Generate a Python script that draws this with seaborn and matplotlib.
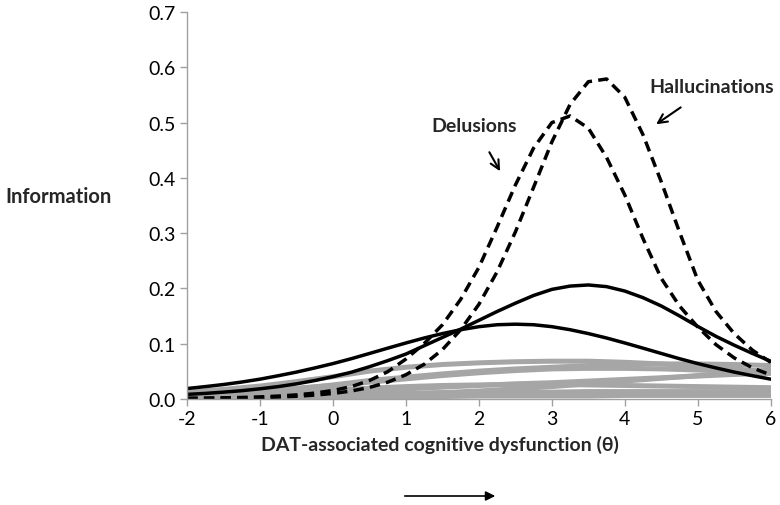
import matplotlib
matplotlib.use('Agg')
import matplotlib.pyplot as plt
import numpy as np
import seaborn as sns

# theta grids
theta_fine = np.linspace(-2, 6, 33)     # step 0.25
theta_coarse = np.linspace(-2, 6, 17)   # step 0.5

# dashed items
hallucinations = [0.0005, 0.0007, 0.0010, 0.0014, 0.0021, 0.0031, 0.0045, 0.0066, 0.0096,
                  0.0140, 0.0205, 0.0300, 0.0435, 0.0625, 0.089, 0.125, 0.171, 0.230, 0.302,
                  0.383, 0.465, 0.533, 0.574, 0.579, 0.546, 0.478, 0.393, 0.302, 0.215,
                  0.158, 0.118, 0.088, 0.066]
delusions = [0.0008, 0.0011, 0.0016, 0.0023, 0.0033, 0.0048, 0.0070, 0.0102, 0.0150,
             0.0220, 0.033, 0.049, 0.072, 0.100, 0.134, 0.180, 0.238, 0.311, 0.387,
             0.454, 0.500, 0.512, 0.490, 0.437, 0.369, 0.290, 0.218, 0.168, 0.130,
             0.098, 0.074, 0.056, 0.043]

# solid black items
solid_a = [0.0079, 0.0097, 0.012, 0.0146, 0.018, 0.022, 0.027, 0.033, 0.040, 0.048, 0.058,
           0.069, 0.081, 0.096, 0.111, 0.126, 0.142, 0.158, 0.173, 0.187, 0.198, 0.204,
           0.206, 0.203, 0.195, 0.183, 0.168, 0.150, 0.131, 0.113, 0.097, 0.082, 0.068]
solid_b = [0.0185, 0.022, 0.0258, 0.0303, 0.0355, 0.0417, 0.0483, 0.0558, 0.0637, 0.0725,
           0.082, 0.0916, 0.101, 0.110, 0.118, 0.125, 0.1305, 0.134, 0.135, 0.134, 0.1305,
           0.125, 0.118, 0.110, 0.101, 0.0916, 0.082, 0.0725, 0.0637, 0.0558, 0.0483,
           0.0417, 0.0355]

# gray items
gray_items = [
    [0.012, 0.017, 0.023, 0.031, 0.040, 0.050, 0.057, 0.062, 0.065, 0.067, 0.068, 0.068, 0.066, 0.063, 0.059, 0.054, 0.049],
    [0.006, 0.009, 0.013, 0.018, 0.025, 0.033, 0.039, 0.045, 0.050, 0.054, 0.057, 0.060, 0.062, 0.063, 0.063, 0.062, 0.060],
    [0.003, 0.004, 0.006, 0.008, 0.011, 0.014, 0.018, 0.021, 0.024, 0.027, 0.029, 0.032, 0.035, 0.038, 0.041, 0.044, 0.046],
    [0.006, 0.008, 0.010, 0.013, 0.016, 0.019, 0.022, 0.024, 0.025, 0.026, 0.026, 0.025, 0.024, 0.023, 0.022, 0.021, 0.020],
    [0.004, 0.005, 0.006, 0.007, 0.008, 0.009, 0.010, 0.011, 0.012, 0.012, 0.012, 0.013, 0.013, 0.013, 0.013, 0.013, 0.013],
    [0.002, 0.002, 0.003, 0.003, 0.003, 0.004, 0.004, 0.004, 0.005, 0.005, 0.005, 0.005, 0.006, 0.006, 0.006, 0.006, 0.006],
    [0.001, 0.0015, 0.002, 0.003, 0.004, 0.006, 0.008, 0.011, 0.014, 0.018, 0.022, 0.027, 0.032, 0.037, 0.042, 0.047, 0.052],
    [0.008, 0.011, 0.015, 0.019, 0.024, 0.030, 0.036, 0.042, 0.047, 0.051, 0.054, 0.055, 0.055, 0.054, 0.052, 0.050, 0.048],
]

x_ticks = [-2, -1, 0, 1, 2, 3, 4, 5, 6]
y_ticks = [0.0, 0.1, 0.2, 0.3, 0.4, 0.5, 0.6, 0.7]

sns.set_style('ticks')
plt.rcParams['font.family'] = ['Lato', 'DejaVu Sans']

fig, ax = plt.subplots(figsize=(7.8, 5.06), dpi=100)
fig.subplots_adjust(left=0.240, right=0.988, top=0.974, bottom=0.21)

for vals in gray_items:
    sns.lineplot(x=theta_coarse, y=vals, ax=ax, color='#a6a6a6', lw=3.6)

sns.lineplot(x=theta_fine, y=solid_b, ax=ax, color='black', lw=2.5)
sns.lineplot(x=theta_fine, y=solid_a, ax=ax, color='black', lw=2.5)
sns.lineplot(x=theta_fine, y=delusions, ax=ax, color='black', lw=2.5, linestyle=(0, (3, 1.8)))
sns.lineplot(x=theta_fine, y=hallucinations, ax=ax, color='black', lw=2.5, linestyle=(0, (3, 1.8)))

ax.set_xlim(-2, 6)
ax.set_ylim(0, 0.7)
ax.set_xticks(x_ticks)
ax.set_xticklabels([str(t) for t in x_ticks])
ax.set_yticks(y_ticks)
ax.set_yticklabels([f'{t:.1f}' for t in y_ticks])
ax.tick_params(labelsize=14, colors='#a0a0a0', length=5, width=1, labelcolor='black')
ax.tick_params(axis='x', pad=3)
sns.despine(ax=ax)
for s in ['left', 'bottom']:
    ax.spines[s].set_color('#a0a0a0')
    ax.spines[s].set_linewidth(1)
ax.set_xlabel('')
ax.set_ylabel('')

fig.text(5 / 780, 1 - 197 / 506, 'Information', fontsize=14.5, fontweight='bold', va='center', ha='left')
fig.text(440 / 780, 1 - 445 / 506, 'DAT-associated cognitive dysfunction (θ)', fontsize=14,
         fontweight='bold', va='center', ha='center')
fig.add_artist(matplotlib.patches.FancyArrowPatch((402 / 780, 1 - 497 / 506), (498 / 780, 1 - 497 / 506),
               transform=fig.transFigure, arrowstyle='-|>', mutation_scale=14, color='black', lw=1.2))

ax.annotate('Delusions', xy=(2.29, 0.412), xytext=(1.94, 0.494), fontsize=14, fontweight='bold',
            ha='center', va='center',
            arrowprops=dict(arrowstyle='->', color='black', lw=1.5, shrinkA=12, shrinkB=0, mutation_scale=16))
ax.annotate('Hallucinations', xy=(4.43, 0.497), xytext=(5.19, 0.566), fontsize=14, fontweight='bold',
            ha='center', va='center',
            arrowprops=dict(arrowstyle='->', color='black', lw=1.5, shrinkA=12, shrinkB=0, mutation_scale=16))

fig.savefig('out.png', dpi=100)
